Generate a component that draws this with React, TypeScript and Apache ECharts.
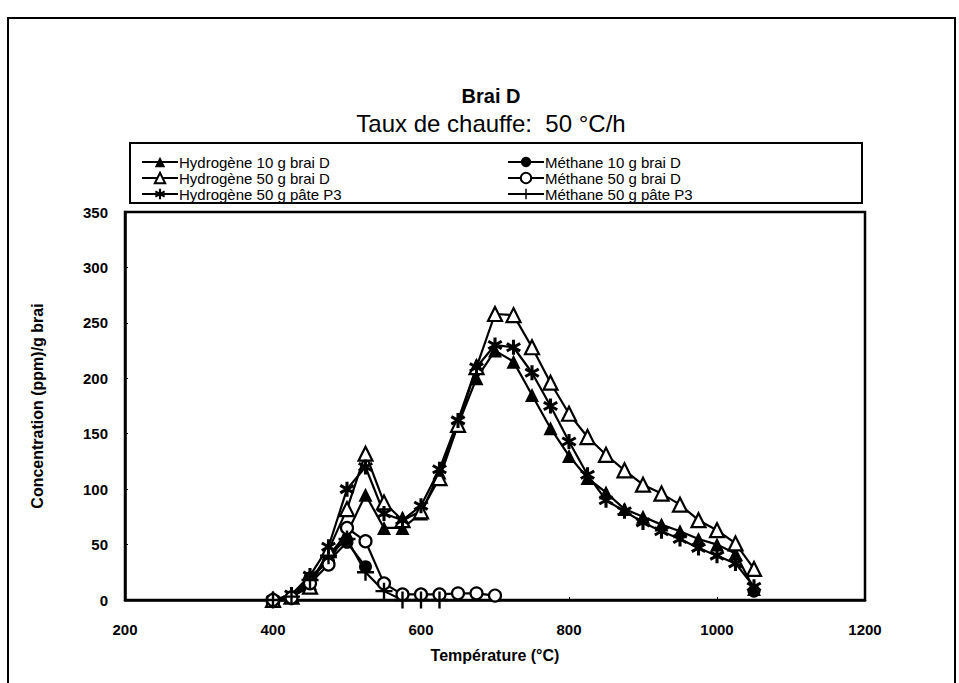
import React, { useEffect, useRef } from "react";
import * as echarts from "echarts";

const temps = [400, 425, 450, 475, 500, 525, 550, 575, 600, 625, 650, 675, 700, 725, 750, 775, 800, 825, 850, 875, 900, 925, 950, 975, 1000, 1025, 1050];
const h10 = [0, 3, 15, 40, 60, 95, 65, 65, 78, 115, 158, 200, 225, 215, 185, 155, 130, 110, 97, 82, 75, 68, 62, 55, 50, 42, 10];
const h50 = [0, 3, 12, 45, 82, 132, 88, 72, 80, 110, 158, 210, 258, 257, 228, 196, 168, 147, 131, 117, 104, 96, 86, 72, 63, 51, 28];
const hP3 = [0, 5, 22, 48, 100, 120, 78, 72, 85, 118, 162, 210, 230, 228, 205, 175, 143, 113, 90, 80, 70, 62, 55, 47, 40, 33, 12];
const m10 = [0, 3, 20, 35, 52, 30, null, null, null, null, null, null, null, null, null, null, null, null, null, null, null, null, null, null, null, null, 8];
const m50 = [0, 2, 15, 32, 65, 53, 15, 5, 5, 5, 6, 6, 4];
const mP3 = [0, 3, 18, 40, 55, 25, 8, 0, 0, 0];

const seriesNames = [
  "Hydrogène 10 g brai D",
  "Hydrogène 50 g brai D",
  "Hydrogène 50 g pâte P3",
  "Méthane 10 g brai D",
  "Méthane 50 g brai D",
  "Méthane 50 g pâte P3",
];

const title = "Brai D";
const subtitle = "Taux de chauffe:  50 °C/h";
const xName = "Température (°C)";
const yName = "Concentration (ppm)/g brai";

function bar(cx: number, cy: number, len: number, w: number, angDeg: number) {
  const a = (angDeg * Math.PI) / 180;
  const dx = Math.cos(a), dy = Math.sin(a);
  const nx = -dy, ny = dx;
  const hl = len / 2, hw = w / 2;
  const p = [
    [cx - dx * hl - nx * hw, cy - dy * hl - ny * hw],
    [cx + dx * hl - nx * hw, cy + dy * hl - ny * hw],
    [cx + dx * hl + nx * hw, cy + dy * hl + ny * hw],
    [cx - dx * hl + nx * hw, cy - dy * hl + ny * hw],
  ];
  return "M" + p.map((q) => q[0].toFixed(2) + " " + q[1].toFixed(2)).join(" L") + " Z";
}
const asteriskPath = "path://" + [bar(10, 10, 20, 4, 90), bar(10, 10, 20, 4, 30), bar(10, 10, 20, 4, 150)].join(" ");
const plusPath = "path://" + [bar(10, 10, 20, 2.8, 90), bar(10, 10, 20, 2.8, 0)].join(" ");

const FONT = "'Liberation Sans', Arial, sans-serif";

export default function App() {
  const ref = useRef<HTMLDivElement>(null);
  useEffect(() => {
    if (!ref.current) return;
    const chart = echarts.init(ref.current, undefined, { renderer: "svg" });
    const pair = (vals: (number | null)[]) => vals.map((v, i) => [temps[i], v]);
    const base = (name: string, data: any[], symbol: string, size: number, fill: string) => ({
      name,
      type: "line",
      data,
      symbol,
      symbolSize: size,
      showAllSymbol: true,
      connectNulls: false,
      lineStyle: { color: "#000", width: 2.2 },
      itemStyle: { color: fill, borderColor: "#000", borderWidth: fill === "#fff" ? 2.2 : 0 },
      z: 3,
    });
    const legendCommon = {
      orient: "vertical",
      top: 149,
      itemGap: 0,
      itemWidth: 36,
      itemHeight: 13,
      textStyle: { fontFamily: FONT, fontSize: 15, color: "#000", lineHeight: 16, padding: [0, 0, 0, -4] },
    };
    chart.setOption({
      animation: false,
      backgroundColor: "#fff",
      title: [
        { text: title, left: 486, top: 81, textAlign: "center", textStyle: { fontFamily: FONT, fontSize: 20, fontWeight: "bold", color: "#000" } },
        { text: subtitle, left: 486, top: 106, textAlign: "center", textStyle: { fontFamily: FONT, fontSize: 24, fontWeight: "normal", color: "#000" } },
      ],
      legend: [
        { ...legendCommon, data: [seriesNames[0], seriesNames[1], seriesNames[2]], left: 136 },
        { ...legendCommon, data: [seriesNames[3], seriesNames[4], seriesNames[5]], left: 502 },
      ],
      grid: { left: 125, top: 212, right: 94, bottom: 83, show: true, borderColor: "#000", borderWidth: 2.5, containLabel: false },
      xAxis: {
        type: "value",
        min: 200,
        max: 1200,
        interval: 200,
        name: xName,
        nameLocation: "middle",
        nameGap: 47,
        nameTextStyle: { fontFamily: FONT, fontSize: 16, fontWeight: "bold", color: "#000" },
        axisLine: { show: true, lineStyle: { color: "#000", width: 2.5 } },
        axisTick: { show: true, inside: true, length: 3, lineStyle: { color: "#000", width: 1 } },
        axisLabel: { fontFamily: FONT, fontSize: 15, fontWeight: "bold", color: "#000", margin: 22, formatter: (v: number) => String(v) },
        splitLine: { show: false },
      },
      yAxis: {
        type: "value",
        min: 0,
        max: 350,
        interval: 50,
        name: yName,
        nameLocation: "middle",
        nameGap: 80,
        nameRotate: 90,
        nameTextStyle: { fontFamily: FONT, fontSize: 16, fontWeight: "bold", color: "#000" },
        axisLine: { show: true, lineStyle: { color: "#000", width: 2.5 } },
        axisTick: { show: true, inside: true, length: 3, lineStyle: { color: "#000", width: 1 } },
        axisLabel: { fontFamily: FONT, fontSize: 15, fontWeight: "bold", color: "#000", margin: 17 },
        splitLine: { show: false },
      },
      graphic: [
        { type: "rect", shape: { x: 8, y: 18, width: 947, height: 700 }, style: { fill: "none", stroke: "#000", lineWidth: 2 }, silent: true },
        { type: "rect", shape: { x: 130, y: 143, width: 732, height: 60 }, style: { fill: "none", stroke: "#000", lineWidth: 2 }, silent: true },
      ],
      series: [
        base(seriesNames[0], pair(h10), "triangle", 14, "#000"),
        base(seriesNames[1], pair(h50), "triangle", 14, "#fff"),
        base(seriesNames[2], pair(hP3), asteriskPath, 15, "#000"),
        base(seriesNames[3], pair(m10), "circle", 13, "#000"),
        base(seriesNames[4], pair(m50), "circle", 12, "#fff"),
        base(seriesNames[5], pair(mP3), plusPath, 17, "#000"),
      ],
    });
    return () => chart.dispose();
  }, []);
  return <div ref={ref} style={{ position: "fixed", left: 0, top: 0, width: 959, height: 683 }} />;
}
